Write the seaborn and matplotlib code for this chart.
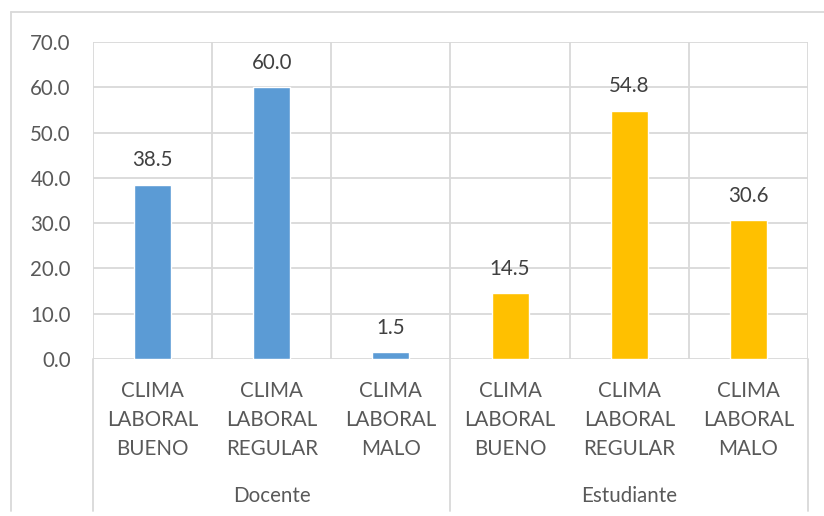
import matplotlib
matplotlib.use("Agg")
import matplotlib.pyplot as plt
from matplotlib.lines import Line2D
import matplotlib.transforms as mtransforms
import seaborn as sns
import pandas as pd

grupos = ["Docente", "Docente", "Docente", "Estudiante", "Estudiante", "Estudiante"]
categorias = ["CLIMA\nLABORAL\nBUENO", "CLIMA\nLABORAL\nREGULAR", "CLIMA\nLABORAL\nMALO",
              "CLIMA\nLABORAL\nBUENO", "CLIMA\nLABORAL\nREGULAR", "CLIMA\nLABORAL\nMALO"]
valores = [38.5, 60.0, 1.5, 14.5, 54.8, 30.6]
y_ticks = [0, 10, 20, 30, 40, 50, 60, 70]

colores = {"Docente": "#5B9BD5", "Estudiante": "#FFC000"}
gris_texto = "#595959"
gris_linea = "#D9D9D9"
fs = 14.8

df = pd.DataFrame({
    "grupo": grupos,
    "categoria": categorias,
    "valor": valores,
})
df["clave"] = [f"{g}|{c}" for g, c in zip(grupos, categorias)]

sns.set_theme(style="white")
plt.rcParams["font.family"] = ["Lato", "DejaVu Sans"]

fig = plt.figure(figsize=(8.24, 5.16), dpi=100)
ax = fig.add_axes([93 / 824, 1 - 359 / 516, (808 - 93) / 824, (359 - 42) / 516])

sns.barplot(data=df, x="clave", y="valor", hue="grupo", palette=colores,
            dodge=False, width=0.31, legend=False, ax=ax, saturation=1)

ax.set_ylim(0, 70)
ax.set_xlim(-0.5, len(valores) - 0.5)
ax.set_yticks(y_ticks)
ax.set_yticklabels([f"{v:.1f}" for v in y_ticks], fontsize=fs, color=gris_texto)
ax.set_xticks(range(len(valores)))
ax.set_xticklabels(categorias, fontsize=fs, color=gris_texto, linespacing=1.55)
ax.tick_params(axis="y", length=0, pad=16)
ax.tick_params(axis="x", length=0, pad=16)
ax.set_xlabel("")
ax.set_ylabel("")

# Horizontal and vertical gridlines
ax.set_axisbelow(True)
ax.yaxis.grid(True, color=gris_linea, linewidth=1.3)
ax.set_xticks([i - 0.5 for i in range(len(valores) + 1)], minor=True)
ax.tick_params(axis="x", which="minor", length=0)
ax.xaxis.grid(True, which="minor", color=gris_linea, linewidth=1.3)
ax.xaxis.grid(False, which="major")
for s in ax.spines.values():
    s.set_visible(False)

# Value labels
for i, v in enumerate(valores):
    ax.text(i, v + 3.2, f"{v:.1f}", ha="center", va="bottom", fontsize=fs, color="#404040")

# Group labels and separators below the axis
trans = mtransforms.blended_transform_factory(ax.transData, fig.transFigure)
ax.text(1, 1 - 496 / 516, "Docente", transform=trans, ha="center", va="center",
        fontsize=fs, color=gris_texto)
ax.text(4, 1 - 496 / 516, "Estudiante", transform=trans, ha="center", va="center",
        fontsize=fs, color=gris_texto)
for xsep in [-0.5, 2.5, 5.5]:
    fig.add_artist(Line2D([xsep, xsep], [1 - 359 / 516, 1 - 511 / 516], transform=trans,
                          color=gris_linea, linewidth=1.3, clip_on=False))

# Chart frame
fig.add_artist(Line2D([11 / 824, 11 / 824], [1 - 12 / 516, 1 - 511 / 516],
                      transform=fig.transFigure, color=gris_linea, linewidth=1.3))
fig.add_artist(Line2D([11 / 824, 1.0], [1 - 12 / 516, 1 - 12 / 516],
                      transform=fig.transFigure, color=gris_linea, linewidth=1.3))

fig.savefig("out.png", dpi=100)
